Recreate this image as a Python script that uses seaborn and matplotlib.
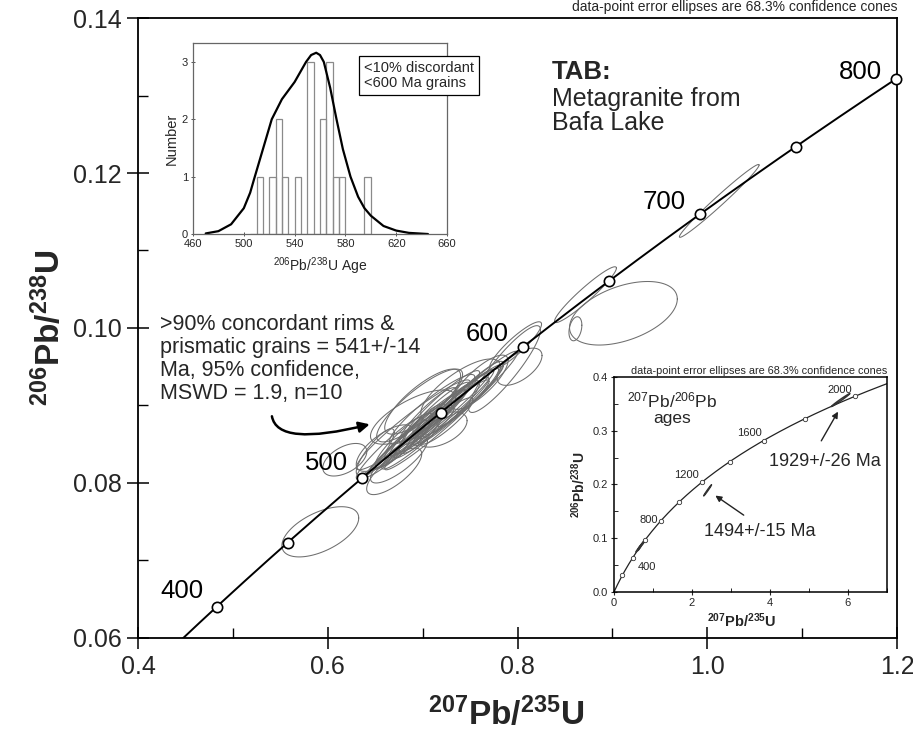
import numpy as np
import pandas as pd
import matplotlib
matplotlib.use("Agg")
import matplotlib.pyplot as plt
from matplotlib import font_manager
from matplotlib.ticker import MultipleLocator, FormatStrFormatter
import seaborn as sns

# ---------------- data ----------------
# decay constants (per Ma) used to place concordia ages
LAMBDA_238 = 1.55125e-4
LAMBDA_235 = 9.8485e-4

main_marker_ages = [400, 450, 500, 550, 600, 650, 700, 750, 800]
main_label_ages = ["400", "500", "600", "700", "800"]
main_label_x = [0.446, 0.5986, 0.7684, 0.9547, 1.1618]
main_label_y = [0.0660, 0.0826, 0.0992, 0.1163, 0.1330]

# main-plot error ellipses: centre, half-widths (x, y), correlation
ell_cx = [0.5921, 1.0126, 0.9116, 0.8610, 0.8716, 0.8021, 0.7979, 0.6179, 0.6700, 0.6500,
          0.7200, 0.7863, 0.6900, 0.7050, 0.7150, 0.7200, 0.7300, 0.7000, 0.7400, 0.7100,
          0.7250, 0.6950, 0.7500, 0.6800, 0.7150, 0.6900, 0.7000, 0.7400, 0.6600, 0.6750,
          0.7600, 0.6800, 0.6950, 0.7100, 0.7250, 0.7350, 0.7050, 0.7450, 0.6650, 0.6900,
          0.7200, 0.6968]
ell_cy = [0.0737, 0.1164, 0.1019, 0.0999, 0.1043, 0.0950, 0.0977, 0.0830, 0.0815, 0.0840,
          0.0869, 0.0947, 0.0865, 0.0878, 0.0890, 0.0884, 0.0897, 0.0870, 0.0905, 0.0895,
          0.0880, 0.0858, 0.0915, 0.0855, 0.0875, 0.0885, 0.0905, 0.0920, 0.0845, 0.0830,
          0.0930, 0.0850, 0.0868, 0.0880, 0.0893, 0.0898, 0.0887, 0.0910, 0.0845, 0.0875,
          0.0900, 0.0900]
ell_sx = [0.0405, 0.0420, 0.0568, 0.0068, 0.0326, 0.0237, 0.0274, 0.0232, 0.0290, 0.0200,
          0.0268, 0.0379, 0.0300, 0.0400, 0.0350, 0.0500, 0.0300, 0.0250, 0.0450, 0.0450,
          0.0280, 0.0380, 0.0350, 0.0300, 0.0550, 0.0450, 0.0400, 0.0420, 0.0300, 0.0300,
          0.0300, 0.0400, 0.0500, 0.0600, 0.0500, 0.0450, 0.0300, 0.0550, 0.0350, 0.0600,
          0.0400, 0.0453]
ell_sy = [0.00324, 0.0047, 0.0041, 0.00155, 0.0036, 0.0024, 0.0031, 0.0021, 0.0030, 0.0030,
          0.00227, 0.0056, 0.0033, 0.0043, 0.0040, 0.0052, 0.0035, 0.0032, 0.0048, 0.0045,
          0.0030, 0.0040, 0.0042, 0.0035, 0.0058, 0.0035, 0.0042, 0.0040, 0.0030, 0.0030,
          0.0035, 0.0042, 0.0052, 0.0062, 0.0053, 0.0050, 0.0036, 0.0060, 0.0040, 0.0058,
          0.0045, 0.0047]
ell_rho = [0.55, 0.985, 0.45, 0.30, 0.95, 0.60, 0.90, 0.50, 0.75, 0.85,
           0.50, 0.90, 0.95, 0.96, 0.93, 0.97, 0.90, 0.85, 0.96, 0.92,
           0.90, 0.95, 0.93, 0.90, 0.97, 0.70, 0.80, 0.75, 0.70, 0.80,
           0.80, 0.97, 0.98, 0.98, 0.97, 0.96, 0.92, 0.97, 0.95, 0.95,
           0.94, 0.85]

# histogram inset
hist_bin_left = [510, 520, 525, 530, 540, 550, 560, 565, 570, 575, 595]
hist_counts = [1, 1, 2, 1, 1, 3, 2, 3, 1, 1, 1]
curve_age = [470, 480, 490, 500, 505, 508, 512, 516, 522, 530, 540, 549, 553, 557,
             560, 563, 568, 573, 578, 584, 590, 595, 600, 610, 620, 630, 645]
curve_val = [0.01, 0.05, 0.17, 0.45, 0.72, 0.95, 1.25, 1.55, 2.0, 2.35, 2.65, 3.0, 3.12, 3.16,
             3.12, 3.0, 2.55, 2.0, 1.48, 1.0, 0.65, 0.45, 0.32, 0.14, 0.06, 0.02, 0.0]

# concordia inset
inset_marker_ages = [200, 400, 600, 800, 1000, 1200, 1400, 1600, 1800, 2000]
inset_label_ages = ["400", "800", "1200", "1600", "2000"]
inset_label_x = [0.845, 0.887, 1.86, 3.47, 5.80]
inset_label_y = [0.047, 0.134, 0.2177, 0.2952, 0.3758]
in_ell_cx = [0.62, 0.70, 0.66, 0.75, 2.40, 5.81]
in_ell_cy = [0.080, 0.087, 0.083, 0.092, 0.189, 0.357]
in_ell_sx = [0.06, 0.08, 0.05, 0.05, 0.10, 0.235]
in_ell_sy = [0.006, 0.008, 0.006, 0.005, 0.0103, 0.012]
in_ell_rho = [0.98, 0.98, 0.95, 0.95, 0.99, 0.99]

# ---------------- style ----------------
sns.set_theme(style="white")
fams = {f.name for f in font_manager.fontManager.ttflist}
base = "Liberation Sans" if "Liberation Sans" in fams else "DejaVu Sans"
narrow = "Liberation Sans Narrow" if "Liberation Sans Narrow" in fams else base
plt.rcParams["font.family"] = [base, "DejaVu Sans"]
plt.rcParams["mathtext.fontset"] = "custom"
plt.rcParams["mathtext.rm"] = base
plt.rcParams["mathtext.it"] = base + ":italic"
plt.rcParams["mathtext.bf"] = narrow + ":bold"


def concordia(ages):
    a = np.asarray(ages, dtype=float)
    return np.exp(LAMBDA_235 * a) - 1.0, np.exp(LAMBDA_238 * a) - 1.0


def ellipse(cx, cy, sx, sy, rho, n=120):
    t = np.linspace(0, 2 * np.pi, n)
    x = cx + sx * np.cos(t)
    y = cy + sy * (rho * np.cos(t) + np.sqrt(1 - rho ** 2) * np.sin(t))
    return x, y


fig = plt.figure(figsize=(9.13, 7.35), dpi=100)
ax = fig.add_axes([0.1512, 0.1320, 0.8313, 0.8435])

# ellipses
for cx, cy, sx, sy, r in zip(ell_cx, ell_cy, ell_sx, ell_sy, ell_rho):
    ex, ey = ellipse(cx, cy, sx, sy, r)
    ax.plot(ex, ey, color="#6e6e6e", lw=0.75, zorder=2)

# concordia curve
cages = np.linspace(370, 805, 400)
ccx, ccy = concordia(cages)
sns.lineplot(x=ccx, y=ccy, sort=False, estimator=None, color="black", lw=1.4, ax=ax, zorder=3)
mx, my = concordia(main_marker_ages)
sns.scatterplot(x=mx, y=my, s=55, facecolor="white", edgecolor="black", linewidth=1.2,
                ax=ax, zorder=4, clip_on=False)
for lab, lx, ly in zip(main_label_ages, main_label_x, main_label_y):
    ax.text(lx, ly, lab, fontsize=18.5, ha="center", va="center", color="black")

ax.set_xlim(0.4, 1.2)
ax.set_ylim(0.06, 0.14)
ax.xaxis.set_major_locator(MultipleLocator(0.2))
ax.xaxis.set_minor_locator(MultipleLocator(0.1))
ax.yaxis.set_major_locator(MultipleLocator(0.02))
ax.yaxis.set_minor_locator(MultipleLocator(0.01))
ax.xaxis.set_major_formatter(FormatStrFormatter("%.1f"))
ax.yaxis.set_major_formatter(FormatStrFormatter("%.2f"))
ax.tick_params(which="major", direction="inout", length=16, width=1.1, labelsize=18,
               color="black", pad=4, bottom=True, left=True)
ax.tick_params(which="minor", direction="in", length=7, width=1.0, color="black",
               bottom=True, left=True)
for s in ax.spines.values():
    s.set_color("black")
    s.set_linewidth(1.3)
ax.set_xlabel(r"$\mathbf{^{207}Pb/^{235}U}$", fontsize=24)
ax.set_ylabel(r"$\mathbf{^{206}Pb/^{238}U}$", fontsize=24)
ax.xaxis.set_label_coords(0.485, -0.094)
ax.yaxis.set_label_coords(-0.094, 0.5)

ax.text(1.0, 1.006, "data-point error ellipses are 68.3% confidence cones",
        transform=ax.transAxes, ha="right", va="bottom", fontsize=10)
ax.text(0.545, 0.913, "TAB:", transform=ax.transAxes, ha="left", va="center",
        fontsize=18.5, fontweight="bold")
ax.text(0.545, 0.889, "Metagranite from\nBafa Lake", transform=ax.transAxes, ha="left",
        va="top", fontsize=18, linespacing=1.02)
ax.text(0.029, 0.522, ">90% concordant rims &\nprismatic grains = 541+/-14\n"
        "Ma, 95% confidence,\nMSWD = 1.9, n=10", transform=ax.transAxes, ha="left",
        va="top", fontsize=15.5, linespacing=1.12)
ax.annotate("", xy=(0.6442, 0.08757), xytext=(0.5411, 0.08861),
            arrowprops=dict(arrowstyle="-|>", color="black", lw=1.8, mutation_scale=16,
                            shrinkA=0, shrinkB=0,
                            connectionstyle="angle3,angleA=-80,angleB=14"))

# ---------------- histogram inset ----------------
axh = fig.add_axes([0.2114, 0.6816, 0.2782, 0.2599])
centers = [b + 2.5 for b in hist_bin_left]
sns.histplot(x=centers, weights=hist_counts, binwidth=5, binrange=(505, 600),
             fill=False, element="bars", color="#8a8a8a", linewidth=0.9, ax=axh)
sns.lineplot(x=curve_age, y=curve_val, color="black", lw=1.6, ax=axh)
axh.set_xlim(460, 660)
axh.set_ylim(0, 3.33)
axh.set_xticks([460, 500, 540, 580, 620, 660])
axh.set_yticks([0, 1, 2, 3])
axh.tick_params(labelsize=8, length=3, width=0.7, direction="inout", pad=2,
                bottom=True, left=True, color="#555555")
for s in axh.spines.values():
    s.set_color("#666666")
    s.set_linewidth(0.9)
axh.set_ylabel("Number", fontsize=10.5, labelpad=2)
axh.set_xlabel(r"$^{206}$Pb/$^{238}$U Age", fontsize=10, labelpad=5)
axh.text(0.672, 0.905, "<10% discordant\n<600 Ma grains", transform=axh.transAxes,
         ha="left", va="top", fontsize=10.5, linespacing=1.05,
         bbox=dict(boxstyle="square,pad=0.35", facecolor="white", edgecolor="black", lw=0.9))

# ---------------- concordia inset ----------------
ax2 = fig.add_axes([0.6725, 0.1946, 0.2990, 0.2925])
ia = np.linspace(0, 2120, 400)
icx, icy = concordia(ia)
sns.lineplot(x=icx, y=icy, sort=False, estimator=None, color="#222222", lw=0.9, ax=ax2)
imx, imy = concordia(inset_marker_ages)
sns.scatterplot(x=imx, y=imy, s=10, facecolor="white", edgecolor="#333333", linewidth=0.6,
                ax=ax2, zorder=4)
for cx, cy, sx, sy, r in zip(in_ell_cx, in_ell_cy, in_ell_sx, in_ell_sy, in_ell_rho):
    ex, ey = ellipse(cx, cy, sx, sy, r)
    ax2.plot(ex, ey, color="#333333", lw=1.0, zorder=3)
for lab, lx, ly in zip(inset_label_ages, inset_label_x, inset_label_y):
    ax2.text(lx, ly, lab, fontsize=8, ha="center", va="center")
ax2.set_xlim(0, 7)
ax2.set_ylim(0, 0.4)
ax2.set_xticks([0, 2, 4, 6])
ax2.set_yticks([0.0, 0.1, 0.2, 0.3, 0.4])
ax2.xaxis.set_minor_locator(MultipleLocator(1))
ax2.yaxis.set_minor_locator(MultipleLocator(0.05))
ax2.yaxis.set_major_formatter(FormatStrFormatter("%.1f"))
ax2.tick_params(which="major", labelsize=8, length=5, width=0.8, direction="inout", pad=2,
                bottom=True, left=True)
ax2.tick_params(which="minor", length=3, width=0.7, direction="in", bottom=True, left=True)
for s in ax2.spines.values():
    s.set_color("black")
    s.set_linewidth(1.1)
ax2.set_xlabel(r"$\mathbf{^{207}Pb/^{235}U}$", fontsize=10.5, labelpad=3)
ax2.set_ylabel(r"$\mathbf{^{206}Pb/^{238}U}$", fontsize=10, labelpad=3)
ax2.xaxis.set_label_coords(0.467, -0.09)
ax2.text(1.0, 1.005, "data-point error ellipses are 68.3% confidence cones",
         transform=ax2.transAxes, ha="right", va="bottom", fontsize=7.8)
ax2.text(1.5, 0.342, r"$^{207}$Pb/$^{206}$Pb" + "\nages", ha="center", va="center",
         fontsize=12.5, linespacing=1.0)
ax2.text(5.41, 0.2425, "1929+/-26 Ma", ha="center", va="center", fontsize=13)
ax2.text(3.73, 0.112, "1494+/-15 Ma", ha="center", va="center", fontsize=13)
ax2.annotate("", xy=(5.78, 0.340), xytext=(5.28, 0.2767),
             arrowprops=dict(arrowstyle="-|>", color="#222222", lw=1.0, mutation_scale=9))
ax2.annotate("", xy=(2.54, 0.1823), xytext=(3.385, 0.140),
             arrowprops=dict(arrowstyle="-|>", color="#222222", lw=1.0, mutation_scale=9))

fig.savefig("out.png", dpi=100, facecolor="white")
